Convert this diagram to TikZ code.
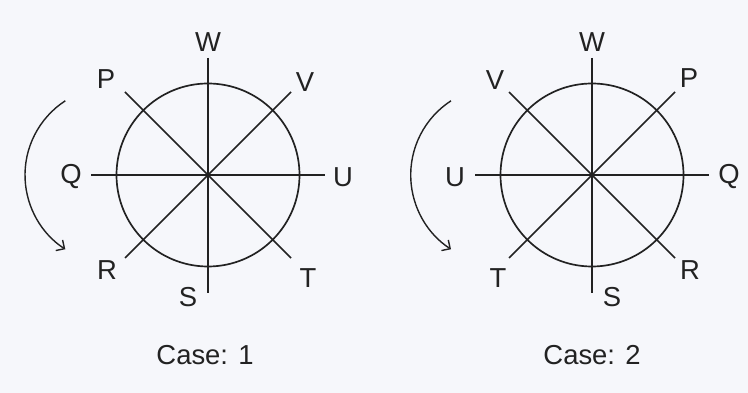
\documentclass[tikz,border=0pt]{standalone}
\usepackage{fontspec}
\setmainfont{Liberation Sans}
\usepackage{tikz}
\usetikzlibrary{arrows.meta}
\definecolor{paper}{RGB}{246,247,251}
\definecolor{ink}{RGB}{34,34,34}

\begin{document}
\begin{tikzpicture}[
  x=0.025cm, y=0.025cm,
  font=\fontsize{19.5pt}{22pt}\selectfont,
  spoke/.style={draw=ink, line width=1.2pt},
  turn/.style={draw=ink, line width=1pt, -{Straight Barb[length=4.5pt,width=9pt]}},
  lbl/.style={text=ink, inner sep=0pt, anchor=center}
]
\fill[paper] (0,0) rectangle (748,393);
\useasboundingbox (0,0) rectangle (748,393);

% case 1
\begin{scope}[shift={(208,218)}]
\coordinate (o1) at (0,0);
\coordinate (n1) at (0,117);
\coordinate (s1) at (0,-118);
\coordinate (e1) at (117,0);
\coordinate (w1) at (-117,0);
\coordinate (ne1) at (83,83);
\coordinate (nw1) at (-83,83);
\coordinate (se1) at (83,-83);
\coordinate (sw1) at (-83,-83);
\coordinate (a1) at (-142.7,74.2);
\draw[spoke] (o1) circle[radius=91.5];
\draw[spoke] (n1) -- (s1);
\draw[spoke] (w1) -- (e1);
\draw[spoke] (nw1) -- (se1);
\draw[spoke] (sw1) -- (ne1);
\draw[turn] (a1) arc[start angle=123, end angle=237, radius=88.5];
\node[lbl] (lw1) at (0,133) {W};
\node[lbl] (lp1) at (-102,96) {P};
\node[lbl] (lv1) at (97,93) {V};
\node[lbl] (lq1) at (-137,-2) {Q};
\node[lbl] (lu1) at (135,-2) {U};
\node[lbl] (lr1) at (-101,-95) {R};
\node[lbl] (ls1) at (-20,-122) {S};
\node[lbl] (lt1) at (100,-103) {T};
\node[lbl] (cap1) at (-3,-180) {Case: 1};
\end{scope}

% case 2
\begin{scope}[shift={(592,218)}]
\coordinate (o2) at (0,0);
\coordinate (n2) at (0,117);
\coordinate (s2) at (0,-118);
\coordinate (e2) at (117,0);
\coordinate (w2) at (-117,0);
\coordinate (ne2) at (83,83);
\coordinate (nw2) at (-83,83);
\coordinate (se2) at (83,-83);
\coordinate (sw2) at (-83,-83);
\coordinate (a2) at (-141,74.2);
\draw[spoke] (o2) circle[radius=91.5];
\draw[spoke] (n2) -- (s2);
\draw[spoke] (w2) -- (e2);
\draw[spoke] (nw2) -- (se2);
\draw[spoke] (sw2) -- (ne2);
\draw[turn] (a2) arc[start angle=123, end angle=237, radius=88.5];
\node[lbl] (lw2) at (0,133) {W};
\node[lbl] (lv2) at (-97,95) {V};
\node[lbl] (lp2) at (97,97) {P};
\node[lbl] (lu2) at (-137,-2) {U};
\node[lbl] (lq2) at (137,-2) {Q};
\node[lbl] (lt2) at (-94,-103) {T};
\node[lbl] (ls2) at (20,-122) {S};
\node[lbl] (lr2) at (98,-95) {R};
\node[lbl] (cap2) at (0,-180) {Case: 2};
\end{scope}
\end{tikzpicture}
\end{document}
